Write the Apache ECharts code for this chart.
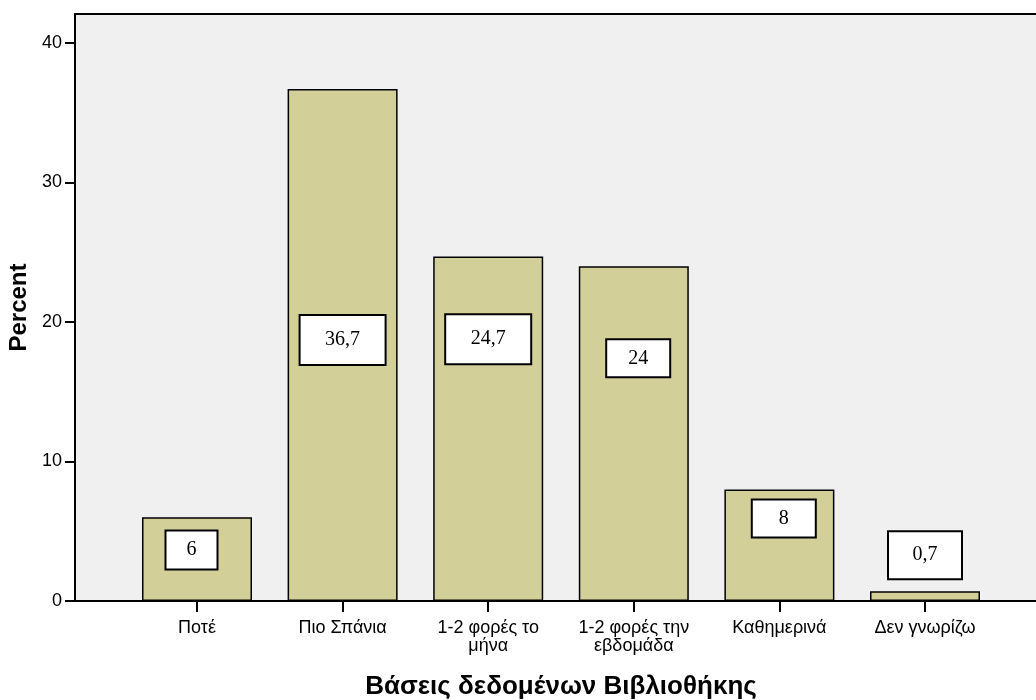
<!DOCTYPE html>
<html>
<head>
<meta charset="utf-8">
<script src="https://cdn.jsdelivr.net/npm/echarts@6/dist/echarts.min.js"></script>
<style>
  html, body { margin: 0; padding: 0; background: #fff; }
  #chart { width: 1036px; height: 700px; }
</style>
</head>
<body>
<div id="chart"></div>
<script>
// data
var categories = ['Ποτέ', 'Πιο Σπάνια', '1-2 φορές το\nμήνα', '1-2 φορές την\nεβδομάδα', 'Καθημερινά', 'Δεν γνωρίζω'];
var percents = [6, 36.7, 24.7, 24, 8, 0.7];
var yTicks = [0, 10, 20, 30, 40];

// label box placement (style only), one per bar
var labelBoxes = [
  { pos: ['45%', '39%'], w: 50, h: 37 },
  { pos: ['50%', '49%'], w: 84, h: 48 },
  { pos: ['50%', '24%'], w: 84, h: 48 },
  { pos: ['54%', '27.5%'], w: 62, h: 36 },
  { pos: ['54%', '26%'], w: 62, h: 36 },
  { pos: ['50%', -36], w: 72, h: 46 }
];

var yMax = 42.08;
var sans = '"Liberation Sans", Arial, sans-serif';

var barData = percents.map(function (v, i) {
  var b = labelBoxes[i];
  return {
    value: v,
    label: {
      position: b.pos,
      width: b.w,
      height: b.h,
      lineHeight: b.h
    }
  };
});

var option = {
  animation: false,
  grid: [
    { left: 75, top: 14, width: 972, height: 587, show: true, backgroundColor: '#f0f0f0', borderWidth: 0, containLabel: false, outerBoundsMode: 'none' },
    { left: 124.2, top: 14, width: 873.6, height: 587, containLabel: false, outerBoundsMode: 'none' }
  ],
  xAxis: [
    {
      gridIndex: 0, type: 'value', min: 0, max: 1, position: 'bottom',
      axisLine: { show: true, lineStyle: { color: '#000', width: 2 } },
      axisTick: { show: false }, axisLabel: { show: false }, splitLine: { show: false },
      name: 'Βάσεις δεδομένων Βιβλιοθήκης',
      nameLocation: 'middle', nameGap: 73,
      nameTextStyle: { fontFamily: sans, fontSize: 26, fontWeight: 'bold', color: '#000' }
    },
    {
      gridIndex: 0, type: 'value', min: 0, max: 1, position: 'top',
      axisLine: { show: true, lineStyle: { color: '#000', width: 2 } },
      axisTick: { show: false }, axisLabel: { show: false }, splitLine: { show: false }
    },
    {
      gridIndex: 1, type: 'category', data: categories,
      axisLine: { show: false },
      axisTick: { show: true, alignWithLabel: true, length: 11, lineStyle: { color: '#000', width: 2 } },
      axisLabel: { color: '#000', fontFamily: sans, fontSize: 18, lineHeight: 18, margin: 18, interval: 0 }
    }
  ],
  yAxis: [
    {
      gridIndex: 0, type: 'value', min: 0, max: yMax,
      axisLine: { show: true, lineStyle: { color: '#000', width: 2 } },
      axisTick: { show: true, length: 10, customValues: yTicks, lineStyle: { color: '#000', width: 2 } },
      axisLabel: { color: '#000', fontFamily: sans, fontSize: 18, margin: 13, customValues: yTicks },
      splitLine: { show: false },
      name: 'Percent', nameLocation: 'middle', nameGap: 43,
      nameTextStyle: { fontFamily: sans, fontSize: 24, fontWeight: 'bold', color: '#000' }
    },
    { gridIndex: 1, type: 'value', min: 0, max: yMax, show: false }
  ],
  series: [
    {
      type: 'bar',
      xAxisIndex: 2,
      yAxisIndex: 1,
      barWidth: 110,
      data: barData,
      itemStyle: { color: '#d3cf99', borderColor: '#000', borderWidth: 1.5 },
      label: {
        show: true,
        align: 'center',
        verticalAlign: 'middle',
        backgroundColor: '#fff',
        borderColor: '#000',
        borderWidth: 2,
        padding: 0,
        color: '#000',
        fontFamily: '"Liberation Serif", "Times New Roman", serif',
        fontSize: 20,
        formatter: function (p) { return String(p.value).replace('.', ','); }
      }
    }
  ]
};

var myChart = echarts.init(document.getElementById('chart'));
myChart.setOption(option);
</script>
</body>
</html>
